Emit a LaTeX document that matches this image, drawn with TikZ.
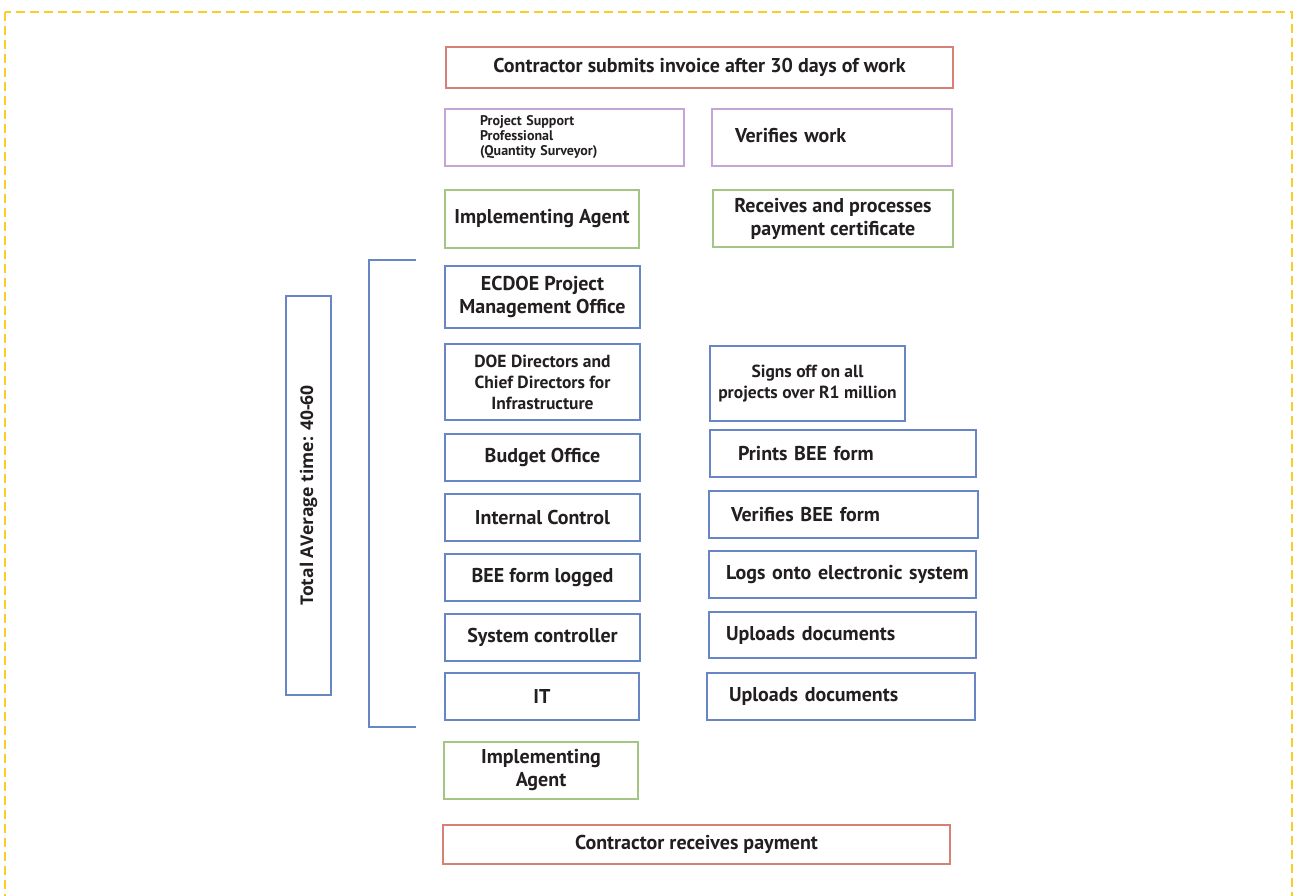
\documentclass[tikz,border=0pt]{standalone}
\usepackage{fontspec}
\setmainfont{PT Sans}
\newfontfamily\sidefont{Open Sans}
\usetikzlibrary{positioning}

\definecolor{payred}{RGB}{214,128,120}
\definecolor{qspurple}{RGB}{195,166,214}
\definecolor{iagreen}{RGB}{165,197,132}
\definecolor{deptblue}{RGB}{104,133,198}
\definecolor{frameyellow}{RGB}{252,204,42}
\definecolor{inktext}{RGB}{35,31,32}

\tikzset{
  stage/.style={draw, line width=2.6pt, inner sep=0pt, align=center, text=inktext,
    font=\fontsize{20}{23}\selectfont\bfseries},
  smallstage/.style={stage, font=\fontsize{17.5}{21}\selectfont\bfseries},
  leftstage/.style={stage, align=left, inner xsep=#1},
  frame/.style={draw=frameyellow, line width=2pt, dash pattern=on 9pt off 5pt}
}

\begin{document}
\begin{tikzpicture}[x=1pt,y=-1pt]

      \clip (0,0) rectangle (1294,896);
      \draw[frame] (5,12) rectangle (1292,940);

      \node[stage, draw=payred, minimum width=507, minimum height=41] (submit) at (699.5,67.5)
        {\raisebox{-2pt}{Contractor submits invoice after 30 days of work}};

      \node[leftstage=35, draw=qspurple, text width=169, minimum height=57,
        font=\fontsize{14}{15}\selectfont\bfseries] (psp) at (564.5,137.5)
        {Project Support\\Professional\\(Quantity Surveyor)};
      \node[leftstage=23, draw=qspurple, text width=194, minimum height=57] (verify) at (832,137.5)
        {\raisebox{4pt}{Verifies work}};

      \node[stage, draw=iagreen, minimum width=194, minimum height=58] (agentA) at (542,219)
        {Implementing Agent};
      \node[stage, draw=iagreen, minimum width=240, minimum height=57] (process) at (833,218.5)
        {Receives and processes\\payment certificate};

      \node[stage, draw=deptblue, minimum width=195, minimum height=62] (ecdoe) at (542.5,297)
        {ECDOE Project\\Management Office};
      \node[smallstage, draw=deptblue, minimum width=195, minimum height=76] (doe) at (542.5,382)
        {DOE Directors and\\Chief Directors for\\Infrastructure};
      \node[smallstage, draw=deptblue, minimum width=195, minimum height=75] (signs) at (807.5,383.5)
        {Signs off on all\\projects over R1 million};

      \node[stage, draw=deptblue, minimum width=195, minimum height=47] (budget) at (542.5,457.5)
        {Budget Office};
      \node[leftstage=28, draw=deptblue, text width=210, minimum height=47] (prints) at (843,453.5)
        {Prints BEE form};

      \node[stage, draw=deptblue, minimum width=195, minimum height=47] (control) at (542.5,517.5)
        {Internal Control};
      \node[leftstage=22, draw=deptblue, text width=225, minimum height=47] (verbee) at (843.5,514.5)
        {Verifies BEE form};

      \node[stage, draw=deptblue, minimum width=195, minimum height=47] (logged) at (542.5,577.5)
        {BEE form logged};
      \node[leftstage=17, draw=deptblue, text width=233, minimum height=47] (logs) at (842.5,574.5)
        {\mbox{Logs onto electronic system}};

      \node[stage, draw=deptblue, minimum width=195, minimum height=47] (sysctl) at (542.5,637.5)
        {System controller};
      \node[leftstage=17, draw=deptblue, text width=233, minimum height=46] (uploadA) at (842.5,635)
        {Uploads documents};

      \node[stage, draw=deptblue, minimum width=194, minimum height=47] (it) at (542,696.5)
        {IT};
      \node[leftstage=22, draw=deptblue, text width=224, minimum height=47] (uploadB) at (841,696.5)
        {Uploads documents};

      \node[stage, draw=iagreen, minimum width=194, minimum height=57] (agentB) at (541,770.5)
        {Implementing\\Agent};
      \node[stage, draw=payred, minimum width=507, minimum height=39] (paid) at (696.5,844.5)
        {\raisebox{-1pt}{Contractor receives payment}};

      \node[stage, draw=deptblue, rotate=90, minimum width=399, minimum height=45,
        font=\sidefont\fontsize{17.5}{18}\selectfont\bfseries] (total) at (308.5,495.5)
        {Total AVerage time: 40-60};

      \coordinate (btop) at (416,260);
      \coordinate (bbot) at (416,727);
      \draw[deptblue, line width=2.6pt] (btop) -- (369,260) -- (369,727) -- (bbot);

\end{tikzpicture}
\end{document}
